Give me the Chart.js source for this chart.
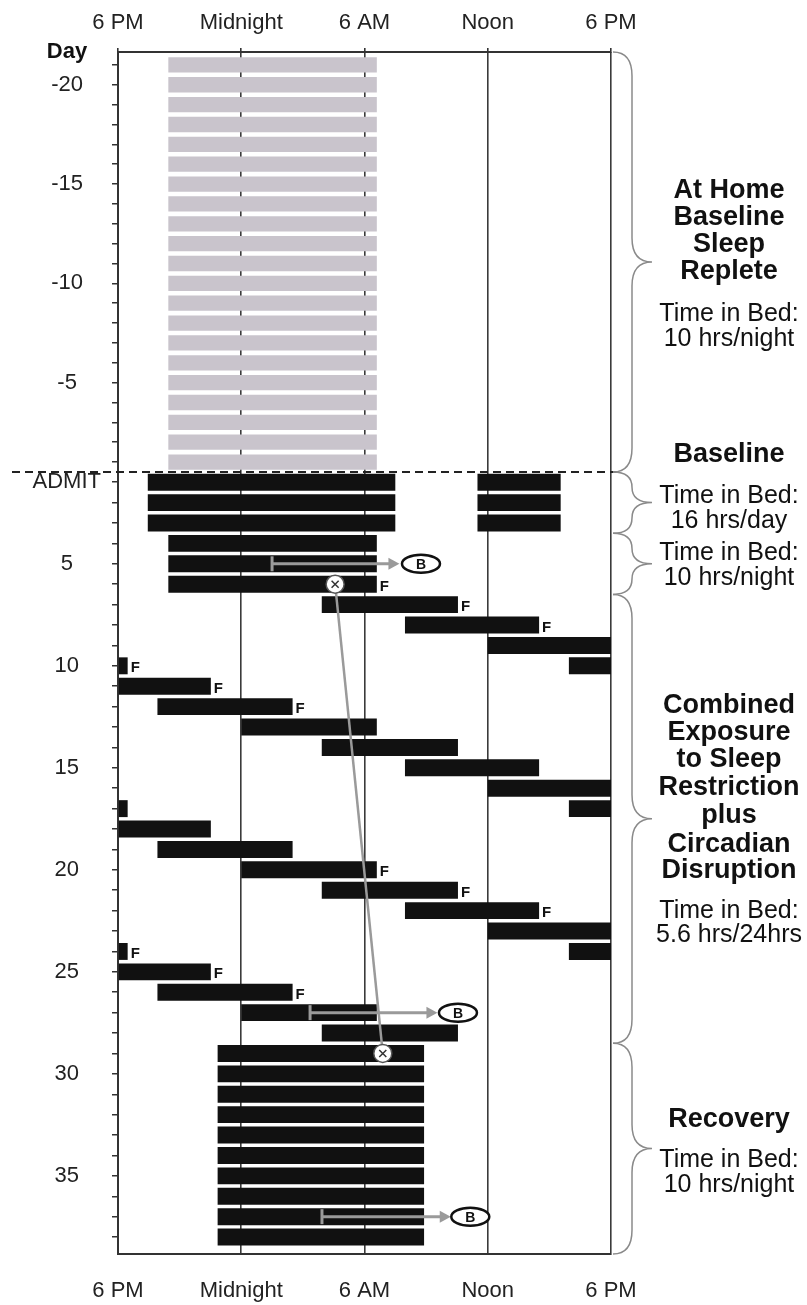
<!DOCTYPE html>
<html>
<head>
<meta charset="utf-8">
<title>Sleep schedule</title>
<script src="https://cdn.jsdelivr.net/npm/chart.js@4.4.1/dist/chart.umd.min.js"></script>
<style>
  html, body { margin: 0; padding: 0; background: #fff; }
  #wrap { width: 807px; height: 1305px; }
</style>
</head>
<body>
<div id="wrap"><canvas id="chart" width="807" height="1305"></canvas></div>
<script>
// clock time is counted in hours from 6 PM (left edge) to 6 PM next day (right edge)
var clockTicks = [0, 6, 12, 18, 24];
var clockLabels = ['6 PM', 'Midnight', '6 AM', 'Noon', '6 PM'];

var dayTicks = [-20, -15, -10, -5, 1, 5, 10, 15, 20, 25, 30, 35];
var dayLabels = ['-20', '-15', '-10', '-5', 'ADMIT', '5', '10', '15', '20', '25', '30', '35'];

// at home, before admission (grey)
var homeDays = [-21, -20, -19, -18, -17, -16, -15, -14, -13, -12, -11, -10, -9, -8, -7, -6, -5, -4, -3, -2, -1];
var homeOn = [2.45, 2.45, 2.45, 2.45, 2.45, 2.45, 2.45, 2.45, 2.45, 2.45, 2.45, 2.45, 2.45, 2.45, 2.45, 2.45, 2.45, 2.45, 2.45, 2.45, 2.45];
var homeOff = [12.6, 12.6, 12.6, 12.6, 12.6, 12.6, 12.6, 12.6, 12.6, 12.6, 12.6, 12.6, 12.6, 12.6, 12.6, 12.6, 12.6, 12.6, 12.6, 12.6, 12.6];

// in the lab (black), one entry per bar piece
var labDays = [1, 1, 2, 2, 3, 3, 4, 5, 6, 7, 8, 9, 10, 10, 11, 12, 13, 14, 15, 16, 17, 17, 18, 19,
               20, 21, 22, 23, 24, 24, 25, 26, 27, 28, 29, 30, 31, 32, 33, 34, 35, 36, 37, 38];
var labOn = [1.45, 17.5, 1.45, 17.5, 1.45, 17.5, 2.45, 2.45, 2.45, 9.92, 13.97, 18, 0, 21.95, 0, 1.92, 6, 9.92, 13.97, 18, 0, 21.95, 0, 1.92,
             6, 9.92, 13.97, 18, 0, 21.95, 0, 1.92, 6, 9.92, 4.85, 4.85, 4.85, 4.85, 4.85, 4.85, 4.85, 4.85, 4.85, 4.85];
var labOff = [13.5, 21.55, 13.5, 21.55, 13.5, 21.55, 12.6, 12.6, 12.6, 16.55, 20.5, 24, 0.47, 24, 4.52, 8.5, 12.6, 16.55, 20.5, 24, 0.47, 24, 4.52, 8.5,
              12.6, 16.55, 20.5, 24, 0.47, 24, 4.52, 8.5, 12.6, 16.55, 14.9, 14.9, 14.9, 14.9, 14.9, 14.9, 14.9, 14.9, 14.9, 14.9];

// "F" marks at the end of some sleeps
var fDays = [6, 7, 8, 10, 11, 12, 20, 21, 22, 24, 25, 26];
var fAt = [12.6, 16.55, 20.5, 0.47, 4.52, 8.5, 12.6, 16.55, 20.5, 0.47, 4.52, 8.5];

// "B" arrows
var bDays = [5, 27, 37];
var bFrom = [7.5, 9.35, 9.93];
var bTo = [13.7, 15.55, 16.2];
var bAt = [14.75, 16.55, 17.15];

// circle-cross markers joined by a line
var markDays = [6, 29];
var markAt = [10.57, 12.89];

// where the phase braces on the right break (lab days)
var phaseBreaks = [3.5, 6.5, 28.5];

var FONT = '"Liberation Sans", Arial, Helvetica, sans-serif';

// text on the right: [text, baseline y, bold]
var notes = [
  ['At Home', 198, true], ['Baseline', 225, true], ['Sleep', 252, true], ['Replete', 279, true],
  ['Time in Bed:', 321, false], ['10 hrs/night', 346, false],
  ['Baseline', 462, true],
  ['Time in Bed:', 503, false], ['16 hrs/day', 528, false],
  ['Time in Bed:', 560, false], ['10 hrs/night', 585, false],
  ['Combined', 713, true], ['Exposure', 740, true], ['to Sleep', 767, true], ['Restriction', 795, true],
  ['plus', 823, true], ['Circadian', 852, true], ['Disruption', 878, true],
  ['Time in Bed:', 918, false], ['5.6 hrs/24hrs', 942, false],
  ['Recovery', 1127, true], ['Time in Bed:', 1167, false], ['10 hrs/night', 1192, false]
];

var labTickDays = [];
for (var d = 1; d <= 38; d++) labTickDays.push(d);

function fixTicks(values) {
  return function (axis) { axis.ticks = values.map(function (v) { return { value: v }; }); };
}
function clockLabel(v) { var i = clockTicks.indexOf(v); return i < 0 ? '' : clockLabels[i]; }
function dayLabel(v) { var i = dayTicks.indexOf(v); return i < 0 ? '' : dayLabels[i]; }

var tickFont = { family: FONT, size: 22 };

function brace(ctx, x0, x1, xt, top, bot) {
  var mid = (top + bot) / 2;
  var r = Math.min(24, (bot - top) / 4);
  ctx.beginPath();
  ctx.moveTo(x0, top);
  ctx.quadraticCurveTo(x1, top, x1, top + r);
  ctx.lineTo(x1, mid - r);
  ctx.quadraticCurveTo(x1, mid, xt, mid);
  ctx.quadraticCurveTo(x1, mid, x1, mid + r);
  ctx.lineTo(x1, bot - r);
  ctx.quadraticCurveTo(x1, bot, x0, bot);
  ctx.stroke();
}

var extras = {
  id: 'extras',
  afterDatasetsDraw: function (chart) {
    var ctx = chart.ctx, area = chart.chartArea;
    var x = chart.scales.x, yH = chart.scales.yHome, yL = chart.scales.yLab;
    ctx.save();

    // admission line
    ctx.setLineDash([8, 5]);
    ctx.lineWidth = 2;
    ctx.strokeStyle = '#222';
    ctx.beginPath();
    ctx.moveTo(12, yL.top);
    ctx.lineTo(area.right + 9, yL.top);
    ctx.stroke();
    ctx.setLineDash([]);

    // F marks
    ctx.font = 'bold 15px ' + FONT;
    ctx.fillStyle = '#111';
    ctx.textAlign = 'left';
    ctx.textBaseline = 'alphabetic';
    fDays.forEach(function (d, i) {
      ctx.fillText('F', x.getPixelForValue(fAt[i]) + 3, yL.getPixelForValue(d) + 6.5);
    });

    // B arrows
    bDays.forEach(function (d, i) {
      var yy = yL.getPixelForValue(d);
      var x0 = x.getPixelForValue(bFrom[i]), x1 = x.getPixelForValue(bTo[i]), xb = x.getPixelForValue(bAt[i]);
      ctx.strokeStyle = '#9a9a9a';
      ctx.fillStyle = '#9a9a9a';
      ctx.lineWidth = 3;
      ctx.beginPath(); ctx.moveTo(x0, yy - 7.5); ctx.lineTo(x0, yy + 7.5); ctx.stroke();
      ctx.beginPath(); ctx.moveTo(x0, yy); ctx.lineTo(x1 - 8, yy); ctx.stroke();
      ctx.beginPath(); ctx.moveTo(x1, yy); ctx.lineTo(x1 - 11, yy - 6); ctx.lineTo(x1 - 11, yy + 6); ctx.closePath(); ctx.fill();
      ctx.beginPath(); ctx.ellipse(xb, yy, 19, 9, 0, 0, Math.PI * 2);
      ctx.fillStyle = '#fff'; ctx.fill();
      ctx.lineWidth = 2.5; ctx.strokeStyle = '#111'; ctx.stroke();
      ctx.fillStyle = '#111';
      ctx.font = 'bold 14px ' + FONT;
      ctx.textAlign = 'center';
      ctx.textBaseline = 'middle';
      ctx.fillText('B', xb, yy + 1);
    });

    // braces on the right
    var edges = [yH.top, yL.top].concat(phaseBreaks.map(function (v) { return yL.getPixelForValue(v); }), [yL.bottom]);
    ctx.strokeStyle = '#8a8a8a';
    ctx.lineWidth = 1.5;
    for (var i = 0; i < edges.length - 1; i++) {
      brace(ctx, area.right + 2, area.right + 21, area.right + 41, edges[i], edges[i + 1]);
    }

    // notes
    ctx.fillStyle = '#111';
    ctx.textAlign = 'center';
    ctx.textBaseline = 'alphabetic';
    notes.forEach(function (n) {
      ctx.font = (n[2] ? 'bold 27px ' : '25px ') + FONT;
      ctx.fillText(n[0], 729, n[1]);
    });

    // y title
    ctx.font = 'bold 22px ' + FONT;
    ctx.fillText('Day', 67, 58);
    ctx.restore();
  }
};

var ctx = document.getElementById('chart').getContext('2d');
var chart = new Chart(ctx, {
  type: 'bar',
  data: {
    datasets: [
      {
        type: 'line',
        data: markDays.map(function (d, i) { return { x: markAt[i], y: d }; }),
        xAxisID: 'x', yAxisID: 'yLab',
        showLine: false,
        pointStyle: 'crossRot', pointRadius: 5,
        pointBorderColor: '#333', pointBorderWidth: 1.5,
        order: 0
      },
      {
        type: 'line',
        data: markDays.map(function (d, i) { return { x: markAt[i], y: d }; }),
        xAxisID: 'x', yAxisID: 'yLab',
        borderColor: '#9a9a9a', borderWidth: 2.5, fill: false,
        pointStyle: 'circle', pointRadius: 9,
        pointBackgroundColor: '#fff', pointBorderColor: '#555', pointBorderWidth: 1.5,
        order: 1
      },
      {
        type: 'bar',
        label: 'In lab',
        data: labDays.map(function (d, i) { return { y: d, x: [labOn[i], labOff[i]] }; }),
        xAxisID: 'x', yAxisID: 'yLab',
        backgroundColor: '#111',
        barPercentage: 0.83, categoryPercentage: 1, grouped: false,
        order: 2
      },
      {
        type: 'bar',
        label: 'At home',
        data: homeDays.map(function (d, i) { return { y: d, x: [homeOn[i], homeOff[i]] }; }),
        xAxisID: 'x', yAxisID: 'yHome',
        backgroundColor: '#c9c4cc',
        barPercentage: 0.77, categoryPercentage: 1, grouped: false,
        order: 3
      }
    ]
  },
  options: {
    indexAxis: 'y',
    responsive: false,
    animation: false,
    layout: { padding: { left: 0, right: 196, top: 0, bottom: 0 } },
    plugins: { legend: { display: false }, tooltip: { enabled: false } },
    scales: {
      x: {
        type: 'linear', position: 'bottom', min: 0, max: 24, offset: false,
        afterBuildTicks: fixTicks(clockTicks),
        afterFit: function (a) { a.height = 51; },
        ticks: { callback: clockLabel, font: tickFont, color: '#222', padding: 24, maxRotation: 0, autoSkip: false },
        grid: { color: '#3a3a3a', lineWidth: 1.6, drawTicks: false, offset: false },
        border: { color: '#333', width: 2 }
      },
      x2: {
        type: 'linear', position: 'top', min: 0, max: 24, offset: false,
        afterBuildTicks: fixTicks(clockTicks),
        afterFit: function (a) { a.height = 52; },
        ticks: { callback: clockLabel, font: tickFont, color: '#222', padding: 12, maxRotation: 0, autoSkip: false },
        grid: { drawOnChartArea: false, tickLength: 4, color: '#333', lineWidth: 1.6, offset: false },
        border: { color: '#333', width: 2 }
      },
      // stacked left scales are placed last-defined on top, so the lab scale comes first here
      yLab: {
        type: 'linear', position: 'left', stack: 'days', stackWeight: 782,
        reverse: true, min: 0.5, max: 38.83, offset: false,
        afterBuildTicks: fixTicks(labTickDays),
        afterFit: function (a) { a.width = 118; },
        ticks: { callback: dayLabel, crossAlign: 'center', padding: 11, autoSkip: false, font: tickFont, color: '#222' },
        grid: { drawOnChartArea: false, tickLength: 6, color: '#333', lineWidth: 1.5, offset: false },
        border: { color: '#333', width: 2 }
      },
      yHome: {
        type: 'linear', position: 'left', stack: 'days', stackWeight: 420,
        reverse: true, min: -21.65, max: -0.5, offset: false,
        afterBuildTicks: fixTicks(homeDays),
        afterFit: function (a) { a.width = 118; },
        ticks: { callback: dayLabel, crossAlign: 'center', padding: 29, autoSkip: false, font: tickFont, color: '#222' },
        grid: { drawOnChartArea: false, tickLength: 6, color: '#333', lineWidth: 1.5, offset: false },
        border: { color: '#333', width: 2 }
      }
    }
  },
  plugins: [extras]
});
</script>
</body>
</html>
